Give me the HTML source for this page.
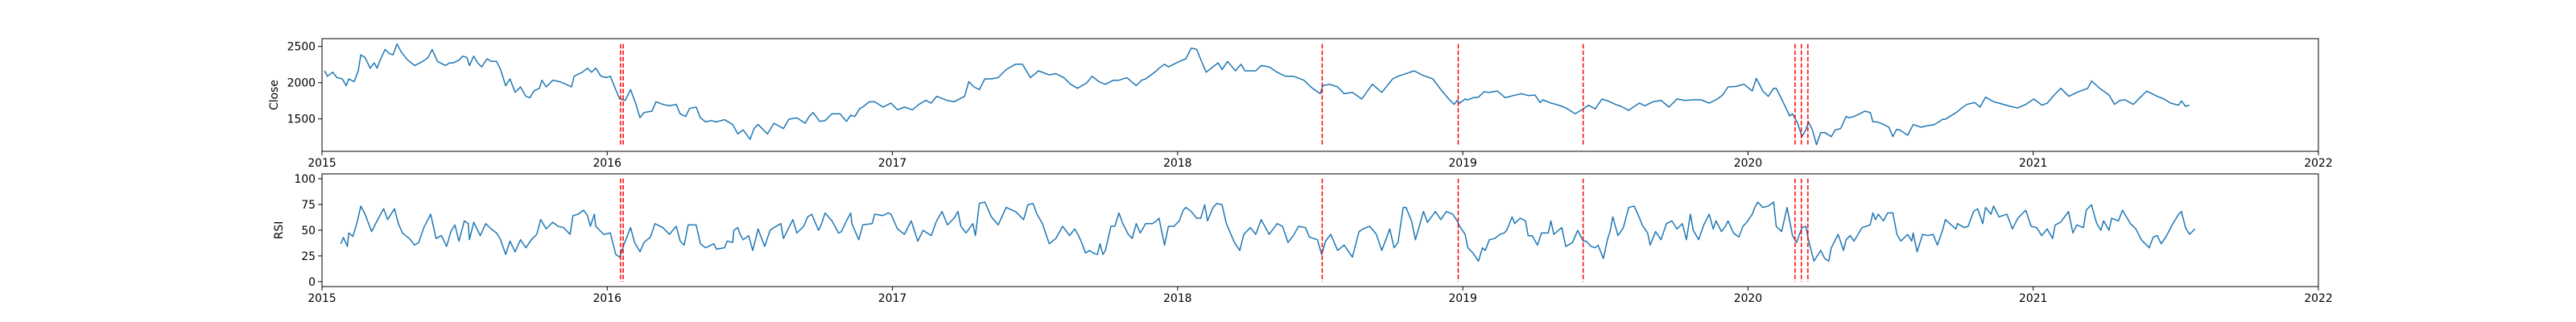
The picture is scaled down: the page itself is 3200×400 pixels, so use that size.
<!DOCTYPE html>
<html><head><meta charset="utf-8">
<style>
html,body{margin:0;padding:0;background:#fff;}
svg{display:block;font-family:"DejaVu Sans","Liberation Sans",sans-serif;}
</style></head>
<body>
<svg id="chart" width="3200" height="400" viewBox="0 0 3200 400" xmlns="http://www.w3.org/2000/svg"></svg>
<script>
const closeT=[2015.009,2015.019,2015.038,2015.052,2015.071,2015.085,2015.094,2015.113,2015.127,2015.136,2015.151,2015.169,2015.183,2015.193,2015.202,2015.221,2015.235,2015.249,2015.263,2015.278,2015.301,2015.325,2015.353,2015.372,2015.386,2015.405,2015.433,2015.447,2015.461,2015.480,2015.494,2015.508,2015.517,2015.532,2015.546,2015.560,2015.579,2015.593,2015.612,2015.626,2015.644,2015.659,2015.677,2015.696,2015.715,2015.729,2015.743,2015.762,2015.771,2015.786,2015.809,2015.833,2015.856,2015.875,2015.884,2015.913,2015.931,2015.945,2015.960,2015.978,2015.997,2016.011,2016.030,2016.044,2016.063,2016.082,2016.101,2016.115,2016.129,2016.157,2016.171,2016.195,2016.218,2016.242,2016.256,2016.275,2016.289,2016.312,2016.327,2016.345,2016.364,2016.383,2016.411,2016.440,2016.458,2016.477,2016.501,2016.515,2016.529,2016.562,2016.585,2016.618,2016.637,2016.665,2016.694,2016.708,2016.722,2016.745,2016.764,2016.788,2016.816,2016.839,2016.854,2016.868,2016.886,2016.896,2016.919,2016.938,2016.967,2016.995,2017.018,2017.042,2017.070,2017.093,2017.117,2017.136,2017.155,2017.192,2017.216,2017.253,2017.268,2017.286,2017.305,2017.324,2017.347,2017.371,2017.399,2017.432,2017.456,2017.484,2017.512,2017.550,2017.573,2017.601,2017.625,2017.649,2017.681,2017.700,2017.724,2017.747,2017.775,2017.794,2017.822,2017.855,2017.874,2017.888,2017.926,2017.935,2017.954,2017.968,2018.006,2018.029,2018.048,2018.067,2018.086,2018.100,2018.124,2018.142,2018.156,2018.175,2018.203,2018.222,2018.236,2018.274,2018.293,2018.321,2018.349,2018.378,2018.406,2018.443,2018.467,2018.500,2018.509,2018.533,2018.561,2018.584,2018.613,2018.646,2018.683,2018.716,2018.754,2018.773,2018.801,2018.829,2018.857,2018.895,2018.923,2018.951,2018.970,2018.980,2018.989,2019.008,2019.017,2019.036,2019.055,2019.074,2019.093,2019.121,2019.149,2019.177,2019.206,2019.229,2019.253,2019.271,2019.281,2019.309,2019.318,2019.347,2019.365,2019.394,2019.422,2019.441,2019.464,2019.488,2019.511,2019.535,2019.554,2019.582,2019.591,2019.619,2019.638,2019.667,2019.695,2019.723,2019.751,2019.779,2019.808,2019.836,2019.864,2019.888,2019.911,2019.930,2019.958,2019.986,2020.015,2020.029,2020.052,2020.071,2020.090,2020.099,2020.118,2020.146,2020.156,2020.174,2020.189,2020.203,2020.212,2020.226,2020.240,2020.255,2020.269,2020.292,2020.306,2020.325,2020.344,2020.353,2020.372,2020.391,2020.410,2020.429,2020.438,2020.452,2020.476,2020.494,2020.508,2020.521,2020.532,2020.560,2020.579,2020.607,2020.626,2020.654,2020.683,2020.692,2020.730,2020.748,2020.767,2020.795,2020.814,2020.833,2020.861,2020.880,2020.918,2020.946,2020.974,2021.002,2021.031,2021.049,2021.078,2021.097,2021.125,2021.153,2021.191,2021.205,2021.233,2021.247,2021.266,2021.285,2021.304,2021.322,2021.351,2021.365,2021.398,2021.435,2021.459,2021.482,2021.510,2021.520,2021.534,2021.548,2021.567];
const closeV=[2163,2089,2144,2070,2052,1959,2052,2015,2163,2385,2348,2200,2274,2200,2293,2459,2404,2385,2533,2422,2311,2237,2293,2348,2459,2293,2237,2274,2274,2311,2367,2348,2237,2367,2274,2218,2330,2293,2293,2181,1959,2052,1867,1941,1811,1792,1885,1922,2033,1941,2033,2015,1978,1941,2089,2144,2200,2144,2200,2089,2070,2089,1904,1774,1755,1904,1700,1515,1589,1607,1737,1700,1681,1700,1570,1533,1644,1663,1514,1459,1477,1459,1489,1422,1292,1348,1218,1366,1422,1292,1440,1366,1496,1514,1440,1533,1588,1466,1477,1570,1570,1466,1551,1533,1644,1663,1737,1737,1663,1718,1626,1663,1626,1700,1755,1718,1811,1755,1737,1811,2015,1941,1904,2052,2052,2070,2181,2255,2255,2070,2163,2107,2126,2070,1978,1922,1996,2089,2015,1978,2033,2033,2070,1959,2033,2052,2163,2200,2255,2218,2293,2330,2478,2459,2274,2144,2218,2274,2181,2293,2163,2255,2163,2163,2237,2218,2144,2089,2089,2033,1941,1848,1959,1978,1941,1848,1866,1774,1978,1866,2052,2089,2126,2163,2107,2052,1903,1774,1700,1755,1718,1774,1762,1792,1800,1874,1866,1885,1792,1822,1848,1822,1829,1726,1763,1718,1711,1674,1644,1570,1637,1689,1637,1774,1744,1700,1674,1618,1644,1718,1681,1737,1755,1663,1774,1755,1763,1763,1718,1763,1829,1941,1948,1978,1885,2059,1885,1811,1922,1922,1774,1541,1570,1441,1255,1348,1459,1348,1144,1311,1311,1255,1348,1366,1533,1514,1533,1570,1607,1588,1459,1459,1422,1385,1255,1355,1348,1274,1422,1385,1403,1422,1496,1496,1588,1644,1700,1726,1663,1800,1737,1718,1674,1651,1700,1774,1689,1718,1848,1922,1811,1866,1922,2022,1922,1885,1829,1700,1755,1763,1700,1755,1885,1811,1774,1718,1689,1748,1674,1689];
const rsiT=[2015.066,2015.075,2015.089,2015.094,2015.108,2015.122,2015.136,2015.151,2015.174,2015.193,2015.216,2015.230,2015.254,2015.268,2015.282,2015.306,2015.325,2015.339,2015.357,2015.381,2015.400,2015.419,2015.437,2015.452,2015.466,2015.480,2015.499,2015.513,2015.517,2015.532,2015.555,2015.574,2015.593,2015.612,2015.626,2015.644,2015.659,2015.677,2015.696,2015.715,2015.734,2015.753,2015.767,2015.786,2015.809,2015.828,2015.847,2015.870,2015.880,2015.898,2015.917,2015.931,2015.941,2015.955,2015.960,2015.988,2016.011,2016.030,2016.044,2016.058,2016.082,2016.096,2016.115,2016.129,2016.152,2016.167,2016.195,2016.218,2016.242,2016.256,2016.270,2016.284,2016.312,2016.327,2016.345,2016.374,2016.383,2016.411,2016.421,2016.440,2016.444,2016.458,2016.468,2016.477,2016.496,2016.510,2016.520,2016.529,2016.552,2016.571,2016.585,2016.609,2016.618,2016.637,2016.651,2016.665,2016.689,2016.703,2016.717,2016.741,2016.750,2016.764,2016.788,2016.811,2016.821,2016.839,2016.854,2016.858,2016.882,2016.896,2016.929,2016.938,2016.967,2016.985,2016.995,2017.018,2017.042,2017.066,2017.089,2017.108,2017.136,2017.155,2017.174,2017.193,2017.216,2017.230,2017.240,2017.258,2017.282,2017.291,2017.305,2017.324,2017.347,2017.371,2017.399,2017.432,2017.460,2017.475,2017.493,2017.507,2017.526,2017.550,2017.573,2017.597,2017.621,2017.639,2017.653,2017.667,2017.677,2017.691,2017.705,2017.719,2017.728,2017.738,2017.747,2017.766,2017.780,2017.794,2017.808,2017.827,2017.841,2017.855,2017.869,2017.888,2017.912,2017.926,2017.935,2017.954,2017.968,2017.987,2018.006,2018.020,2018.029,2018.048,2018.067,2018.081,2018.095,2018.105,2018.124,2018.138,2018.156,2018.171,2018.199,2018.218,2018.232,2018.255,2018.274,2018.293,2018.321,2018.349,2018.368,2018.387,2018.406,2018.424,2018.448,2018.462,2018.490,2018.505,2018.519,2018.537,2018.561,2018.584,2018.613,2018.636,2018.650,2018.674,2018.697,2018.716,2018.730,2018.744,2018.759,2018.773,2018.791,2018.801,2018.820,2018.834,2018.862,2018.876,2018.904,2018.923,2018.942,2018.965,2018.980,2018.989,2019.008,2019.018,2019.036,2019.055,2019.069,2019.079,2019.093,2019.112,2019.131,2019.145,2019.154,2019.173,2019.182,2019.201,2019.220,2019.229,2019.243,2019.262,2019.276,2019.300,2019.309,2019.319,2019.347,2019.361,2019.385,2019.403,2019.422,2019.432,2019.450,2019.464,2019.474,2019.493,2019.507,2019.516,2019.526,2019.544,2019.563,2019.582,2019.601,2019.620,2019.629,2019.648,2019.657,2019.676,2019.695,2019.714,2019.733,2019.751,2019.770,2019.784,2019.798,2019.808,2019.827,2019.845,2019.864,2019.878,2019.888,2019.907,2019.921,2019.930,2019.949,2019.968,2019.982,2019.996,2020.015,2020.024,2020.034,2020.052,2020.071,2020.090,2020.099,2020.118,2020.137,2020.156,2020.170,2020.189,2020.203,2020.212,2020.231,2020.255,2020.269,2020.283,2020.292,2020.316,2020.335,2020.344,2020.358,2020.372,2020.400,2020.414,2020.428,2020.438,2020.447,2020.457,2020.475,2020.490,2020.508,2020.522,2020.536,2020.560,2020.574,2020.579,2020.593,2020.612,2020.631,2020.649,2020.664,2020.682,2020.692,2020.729,2020.734,2020.758,2020.772,2020.791,2020.805,2020.823,2020.833,2020.852,2020.861,2020.880,2020.908,2020.927,2020.946,2020.974,2020.993,2021.012,2021.030,2021.049,2021.068,2021.077,2021.096,2021.124,2021.139,2021.153,2021.176,2021.186,2021.204,2021.223,2021.237,2021.247,2021.266,2021.275,2021.299,2021.313,2021.341,2021.360,2021.379,2021.407,2021.421,2021.435,2021.449,2021.468,2021.487,2021.510,2021.520,2021.534,2021.548,2021.567];
const rsiV=[36.8,42.8,34.2,47.3,43.9,56.4,73.4,65.5,48.6,59.0,70.8,60.3,70.8,56.4,47.3,42.0,35.5,38.1,52.5,65.5,42.0,44.7,34.2,48.6,55.1,39.4,59.0,56.4,40.7,57.7,44.7,56.4,51.2,47.3,40.7,26.4,39.4,29.0,40.7,32.9,40.7,46.0,60.3,51.2,57.7,53.8,52.5,46.0,64.2,65.5,69.4,64.2,53.8,65.5,53.8,46.0,47.3,26.4,23.8,35.5,52.5,38.1,29.0,38.1,43.4,56.4,52.5,46.0,53.8,39.4,35.5,55.1,55.1,36.8,32.9,36.8,31.6,32.9,39.4,38.1,49.9,52.5,44.7,40.7,44.7,30.3,40.7,51.2,34.2,49.9,52.5,56.4,42.0,52.5,60.3,47.3,53.8,62.9,65.5,49.9,55.1,66.8,59.0,47.3,48.6,59.0,66.8,56.4,40.7,55.1,56.4,65.5,64.2,66.8,65.5,51.2,46.0,59.0,39.4,49.9,44.7,59.0,68.1,55.1,61.6,68.1,53.8,47.3,56.4,44.7,76.0,77.3,62.9,55.1,72.1,68.1,60.3,74.7,76.0,65.5,56.4,36.8,42.0,53.8,44.7,51.2,44.7,35.5,27.7,30.3,27.7,26.4,36.8,26.4,30.3,53.8,53.8,66.8,56.4,46.0,42.0,56.4,47.3,56.4,56.4,59.0,61.6,35.5,53.8,53.8,59.0,69.4,72.1,68.1,61.6,61.6,74.7,59.0,72.1,76.0,74.7,56.4,38.1,30.3,46.0,52.5,46.0,60.3,46.0,56.4,53.8,38.1,44.7,53.8,52.5,43.4,40.7,26.4,39.4,46.0,30.3,35.5,23.8,48.6,51.2,53.8,46.0,30.3,40.7,51.2,32.9,38.1,72.1,72.1,59.0,40.7,68.1,57.7,68.1,60.3,68.1,65.5,59.0,53.8,46.0,32.9,27.7,19.9,32.9,30.3,40.7,42.0,46.0,47.3,49.9,62.9,56.4,61.6,59.0,44.7,44.7,35.5,47.3,47.3,59.0,46.0,52.5,34.2,38.1,49.9,39.4,39.4,34.2,32.9,35.5,22.5,40.7,48.6,62.9,44.7,52.5,72.1,73.4,61.6,55.1,47.3,35.5,48.6,40.7,56.4,59.0,51.2,56.4,40.7,65.5,49.9,40.7,55.1,65.5,51.2,59.0,48.6,53.8,59.0,47.3,43.4,53.8,57.7,65.5,72.1,77.3,72.1,73.4,77.3,53.8,48.6,72.1,44.7,38.1,52.5,53.8,40.7,19.9,30.3,22.5,19.9,32.9,46.0,30.3,40.7,44.7,39.4,52.5,53.8,55.1,66.8,60.3,65.5,59.0,66.8,66.8,46.0,39.4,46.0,39.4,47.3,29.0,46.0,44.7,46.0,35.5,49.9,60.3,51.2,56.4,52.5,53.8,68.1,70.8,56.4,72.1,65.5,73.4,62.9,65.5,51.2,61.6,69.4,53.8,52.5,44.7,51.2,42.0,55.1,57.7,68.1,47.3,55.1,52.5,69.4,74.7,56.4,49.9,59.0,49.9,61.6,59.0,69.4,56.4,51.2,40.7,32.9,43.4,44.7,36.8,44.7,55.1,65.5,68.1,52.5,46.0,51.2,40.7,44.7,47.3,36.8,40.7];
const eventT=[2016.047,2016.056,2018.507,2018.984,2019.422,2020.165,2020.187,2020.210];
const xTicks=[2015,2016,2017,2018,2019,2020,2021,2022];
const closeTicks=[1500,2000,2500];
const rsiTicks=[0,25,50,75,100];

const NS='http://www.w3.org/2000/svg';
const svg=document.getElementById('chart');
const X0=400,X1=2880,T0=2015,T1=2022;
function xs(t){return X0+(t-T0)/(T1-T0)*(X1-X0);}
const P1={top:48,bot:188,min:1052,max:2608};
const P2={top:216,bot:356,min:-4.8,max:104.7};
function ys(p,v){return p.bot-(v-p.min)/(p.max-p.min)*(p.bot-p.top);}
function mk(tag,attrs,parent){const e=document.createElementNS(NS,tag);for(const k in attrs)e.setAttribute(k,attrs[k]);(parent||svg).appendChild(e);return e;}

function panel(p,tv,vv,ticks,label,vmin,vmax,key){
  const g=mk('g',{});
  
  
  // series
  let d='';
  for(let i=0;i<tv.length;i++){d+=(i?'L':'M')+xs(tv[i]).toFixed(1)+' '+ys(p,vv[i]).toFixed(1);}
  const line=mk('path',{d:d,fill:'none',stroke:'#1f77b4','stroke-width':1.5,'stroke-linejoin':'round'},g);
  
  
  // event lines
  for(const e of eventT){
    const l=mk('line',{x1:xs(e),x2:xs(e),y1:ys(p,vmax),y2:ys(p,vmin),stroke:'#ff0000','stroke-width':1.5,'stroke-dasharray':'5.55 2.4'},g);
    
    
  }
  // frame
  const fr=mk('rect',{x:X0,y:p.top,width:X1-X0,height:p.bot-p.top,fill:'none',stroke:'#000','stroke-width':1},g);
  
  
  // x ticks
  for(const t of xTicks){
    const x=xs(t);
    mk('line',{x1:x,x2:x,y1:p.bot,y2:p.bot+4.9,stroke:'#000','stroke-width':1},g);
    const tx=mk('text',{x:x,y:p.bot+19,'text-anchor':'middle','font-size':'13.9px',fill:'#000'},g);
    tx.textContent=t;
    
    
  }
  // y ticks
  for(const v of ticks){
    const y=ys(p,v);
    mk('line',{x1:X0-4.9,x2:X0,y1:y,y2:y,stroke:'#000','stroke-width':1},g);
    const ty=mk('text',{x:X0-8,y:y+5,'text-anchor':'end','font-size':'13.9px',fill:'#000'},g);
    ty.textContent=v;
    
    
  }
  const cy=(p.top+p.bot)/2;
  const lab=mk('text',{x:0,y:0,transform:'translate('+(key==='close'?345:351)+','+cy+') rotate(-90)','text-anchor':'middle','font-size':'13.9px',fill:'#000'},g);
  lab.textContent=label;
  
  
}
const cmin=Math.min(...closeV),cmax=Math.max(...closeV);
panel(P1,closeT,closeV,closeTicks,'Close',cmin,cmax,'close');
panel(P2,rsiT,rsiV,rsiTicks,'RSI',0,100,'rsi');
</script>
</body></html>
